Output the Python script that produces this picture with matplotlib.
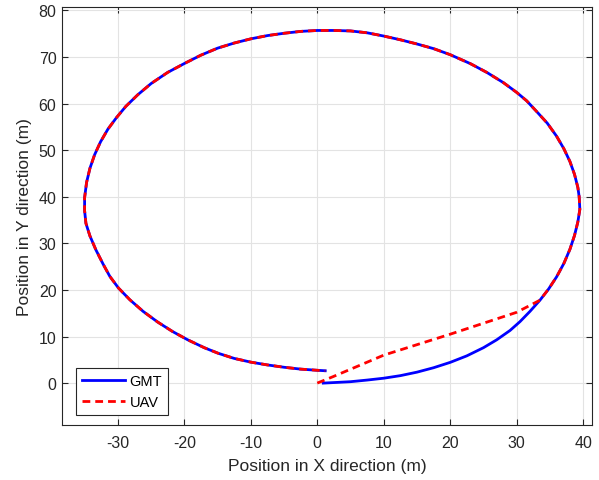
import matplotlib.pyplot as plt

plt.rcParams['font.family'] = ['Liberation Sans', 'DejaVu Sans']
plt.rcParams['axes.unicode_minus'] = False

# ground target (GMT) trajectory
gmt_x = [0.9, 3, 5, 7.5, 10, 12.5, 15, 17.5, 20, 22.5, 25, 27, 29, 30.5, 32, 33.5,
         34.8, 36, 37.1, 38.0, 38.7, 39.2, 39.5, 39.4, 39.2, 38.7, 38.0, 37.1, 36.0,
         34.6, 33, 31.5, 30, 28, 25.5, 23, 20, 17.5, 15, 12.5, 10, 7.5, 5, 2.5, 0,
         -2.5, -5, -7.5, -10, -12.5, -15, -17.5, -20, -22.5, -25, -27, -28.8, -30.2,
         -31.5, -32.6, -33.5, -34.2, -34.7, -35.0, -35.0, -34.8, -34.2, -33.3, -32.2,
         -31.2, -29.9, -28.2, -26.2, -24, -21.8, -19.5, -17, -14.9, -12.5, -10, -7.5,
         -5, -2.5, 0, 1.2]
gmt_y = [0.0, 0.15, 0.3, 0.65, 1.05, 1.6, 2.35, 3.3, 4.45, 5.85, 7.6, 9.3, 11.3, 13.2, 15.4, 17.8,
         20.2, 22.8, 25.7, 28.7, 31.7, 34.6, 37.3, 40.0, 42.0, 44.8, 47.6, 50.3, 53.0,
         55.8, 58.3, 60.6, 62.4, 64.5, 66.7, 68.6, 70.5, 71.8, 72.8, 73.7, 74.5, 75.2, 75.6, 75.7, 75.7,
         75.5, 75.1, 74.6, 73.9, 73.0, 71.9, 70.4, 68.6, 66.7, 64.3, 61.9, 59.4, 57.0,
         54.5, 51.8, 49.0, 46.1, 43.1, 39.8, 37.0, 34.3, 31.6, 28.6, 25.5,
         22.9, 20.4, 17.9, 15.4, 13.1, 11.1, 9.3, 7.6, 6.4, 5.3, 4.5, 3.9,
         3.4, 3.0, 2.75, 2.65]

# UAV: straight approach, then follows the target
uav_start_x = [0, 2.4, 10, 20, 30, 33.5]
uav_start_y = [0, 1.4, 6.0, 10.5, 15.2, 17.8]
join = 16
uav_x = uav_start_x + gmt_x[join:]
uav_y = uav_start_y + gmt_y[join:]

fig = plt.figure(figsize=(5.99, 4.81), dpi=100)
ax = fig.add_axes([0.1035, 0.1143, 0.8845, 0.8687])

ax.plot(gmt_x, gmt_y, color='#0000ff', lw=2, label='GMT')
ax.plot(uav_x, uav_y, color='#ff0000', lw=2, linestyle=(0, (2.8, 1.8)), label='UAV')

ax.set_xlim(-38.4, 41.3)
ax.set_ylim(-9, 80.7)
ax.set_xticks(range(-30, 41, 10))
ax.set_yticks(range(0, 81, 10))
ax.grid(True, color='#e3e3e3', lw=0.8)
ax.set_axisbelow(True)
ax.tick_params(direction='in', top=True, right=True, labelsize=11.5,
               length=4, width=0.8, colors='#262626', pad=4)
ax.tick_params(axis='x', pad=7)
for s in ax.spines.values():
    s.set_color('#262626')
    s.set_linewidth(0.8)

ax.set_xlabel('Position in X direction (m)', fontsize=12.5, color='#262626', labelpad=6)
ax.set_ylabel('Position in Y direction (m)', fontsize=12.5, color='#262626', labelpad=5)

leg = ax.legend(loc='lower left', bbox_to_anchor=(0.026, 0.024), fontsize=10.5,
                handlelength=3.0, fancybox=False, edgecolor='#262626',
                framealpha=1, borderaxespad=0, handletextpad=0.3,
                labelspacing=0.5, borderpad=0.4)
leg.get_frame().set_linewidth(0.8)

fig.savefig('out.png', dpi=100)
